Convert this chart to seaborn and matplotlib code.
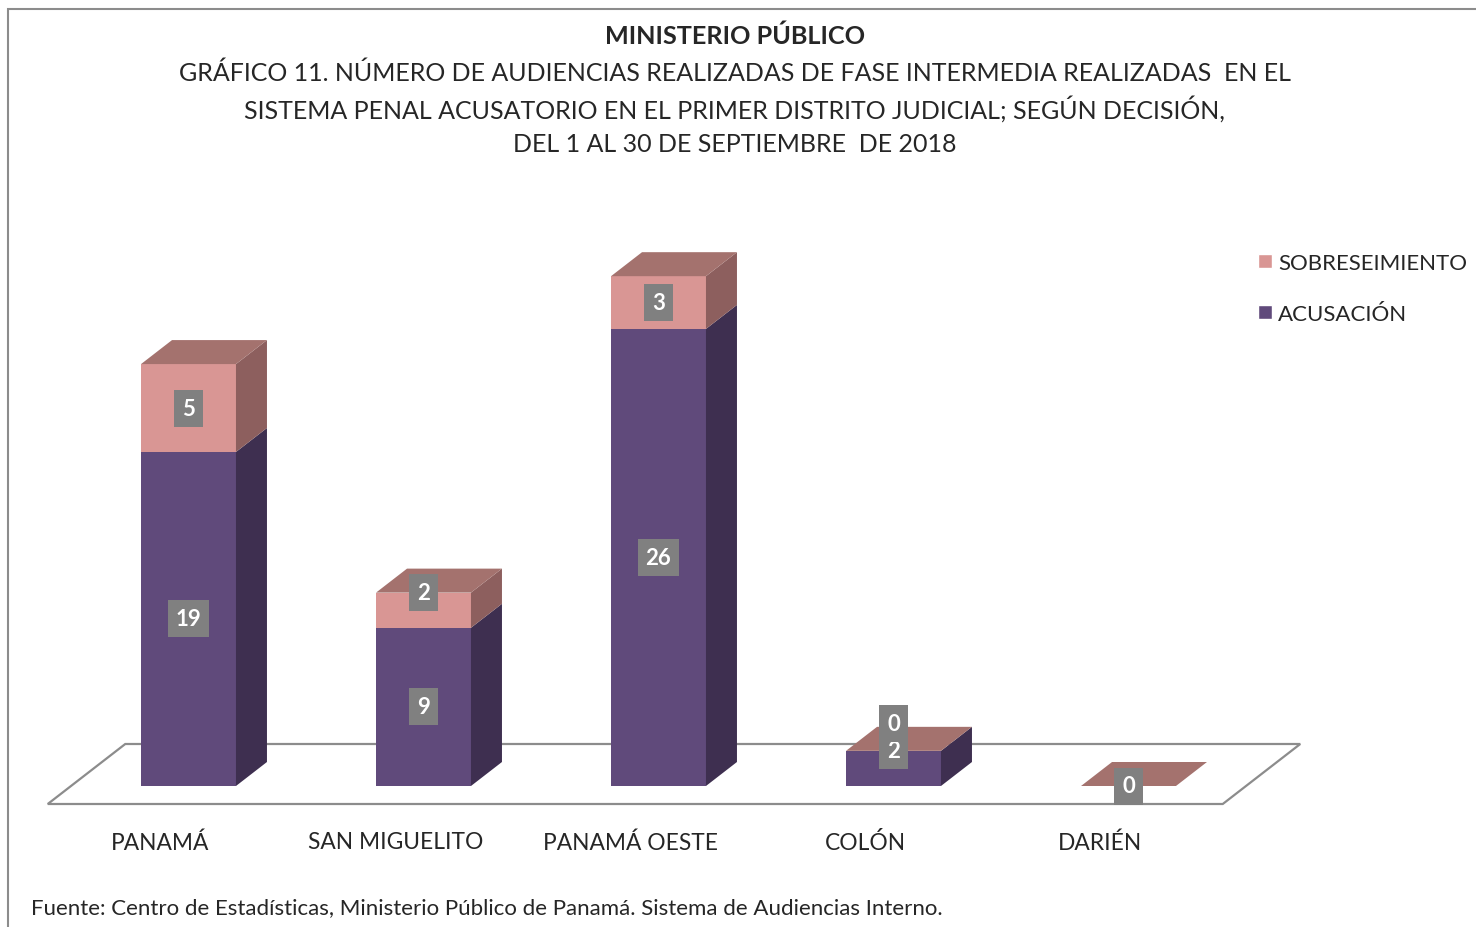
import numpy as np
import pandas as pd
import seaborn as sns
import matplotlib.pyplot as plt
from matplotlib.patches import Polygon, Rectangle, Patch

regiones = ['PANAMÁ', 'SAN MIGUELITO', 'PANAMÁ OESTE', 'COLÓN', 'DARIÉN']
acusacion = [19, 9, 26, 2, np.nan]
sobreseimiento = [5, 2, 3, 0, 0]
series = ['SOBRESEIMIENTO', 'ACUSACIÓN']

titulo = 'MINISTERIO PÚBLICO'
subtitulo = ['GRÁFICO 11. NÚMERO DE AUDIENCIAS REALIZADAS DE FASE INTERMEDIA REALIZADAS  EN EL',
             'SISTEMA PENAL ACUSATORIO EN EL PRIMER DISTRITO JUDICIAL; SEGÚN DECISIÓN,',
             'DEL 1 AL 30 DE SEPTIEMBRE  DE 2018']
fuente = 'Fuente: Centro de Estadísticas, Ministerio Público de Panamá. Sistema de Audiencias Interno.'

# colores: frente, lado, tope
c_acus = ('#604a7b', '#3e2f50', '#4d3b63')
c_sobre = ('#d99694', '#8d5f5e', '#a4726e')

sns.set_theme(style='white')
plt.rcParams['font.family'] = ['Lato', 'DejaVu Sans']

W, H = 1476, 928
fig = plt.figure(figsize=(W / 100, H / 100), dpi=100)
L, R, T, B = 40, 1310, 200, 830
ax = fig.add_axes([L / W, (H - B) / H, (R - L) / W, (B - T) / H])

df = pd.DataFrame({'region': regiones,
                   'acus': np.nan_to_num(acusacion),
                   'sobre': sobreseimiento})
df['total'] = df['acus'] + df['sobre']

bw = 0.404
sns.barplot(data=df, x='region', y='total', color=c_sobre[0], width=bw,
            saturation=1, linewidth=0, ax=ax, zorder=3)
sns.barplot(data=df, x='region', y='acus', color=c_acus[0], width=bw,
            saturation=1, linewidth=0, ax=ax, zorder=3)

px_x, px_y = 235, 17.58
ax.set_xlim((L - 188.5) / px_x, (R - 188.5) / px_x)
ax.set_ylim(-(B - 787) / px_y, (787 - T) / px_y)
ddx, ddy = 31 / px_x, 24 / px_y  # profundidad 3D

# piso
n = len(regiones)
fx0, fx1 = -0.5 + ddx / 2, n - 0.5 + ddx / 2
fy = ddy / 2
hx, hy = 1.25 * ddx, 1.25 * ddy
piso = Polygon([(fx0 - hx, fy - hy), (fx1 - hx, fy - hy), (fx1 + hx, fy + hy), (fx0 + hx, fy + hy)],
               closed=True, facecolor='white', edgecolor='#8c8c8c', lw=1.6, zorder=1)
ax.add_patch(piso)

# caras laterales y superiores
for i in range(n):
    x1 = i + bw / 2
    x0 = i - bw / 2
    segs = [(0, df['acus'][i], c_acus), (df['acus'][i], df['sobre'][i], c_sobre)]
    for b, v, col in segs:
        if v > 0:
            ax.add_patch(Polygon([(x1, b), (x1 + ddx, b + ddy), (x1 + ddx, b + v + ddy), (x1, b + v)],
                                 closed=True, facecolor=col[1], lw=0, zorder=3))
    top = df['total'][i]
    ax.add_patch(Polygon([(x0, top), (x1, top), (x1 + ddx, top + ddy), (x0 + ddx, top + ddy)],
                         closed=True, facecolor=c_sobre[2], lw=0, zorder=3))

# etiquetas de datos
for i in range(n):
    prev = None
    b = 0
    for v in [acusacion[i], sobreseimiento[i]]:
        if np.isnan(v):
            continue
        y = b + v / 2 if v >= 3 else b + v
        if prev is not None and y - prev < 1.55:
            y = prev + 1.55
        ax.text(i, y, f'{int(v)}', ha='center', va='center', color='white',
                fontsize=16, fontweight='bold', zorder=6,
                bbox=dict(boxstyle='square,pad=0.36', facecolor='#808080', edgecolor='none'))
        prev = y
        b += v

ax.set_xticks(np.arange(n) - 0.12)
ax.set_xticklabels(regiones, fontsize=16.4)
ax.tick_params(axis='x', length=0, pad=1.5)
ax.set_yticks([])
ax.set_xlabel('')
ax.set_ylabel('')
for s in ax.spines.values():
    s.set_visible(False)
ax.patch.set_alpha(0)

fig.text(735 / W, 1 - 36 / H, titulo, ha='center', va='center', fontsize=18.2, fontweight='bold')
for k, linea in enumerate(subtitulo):
    fig.text(735 / W, 1 - (73 + 36 * k) / H, linea, ha='center', va='center', fontsize=18)
fig.text(31 / W, 1 - 908 / H, fuente, ha='left', va='center', fontsize=16)

handles = [Patch(facecolor=c_sobre[0]), Patch(facecolor=c_acus[0])]
fig.legend(handles, series, loc='upper left', bbox_to_anchor=(1249 / W, 1 - 245 / H),
           frameon=False, fontsize=16, handlelength=0.62, handleheight=0.62,
           handletextpad=0.3, labelspacing=1.4, borderaxespad=0)

fig.add_artist(Rectangle((8 / W, -0.1), 1.2, 1.1 - 10 / H, transform=fig.transFigure,
                         fill=False, edgecolor='#8c8c8c', lw=1.5))

fig.savefig('out.png', dpi=100)
